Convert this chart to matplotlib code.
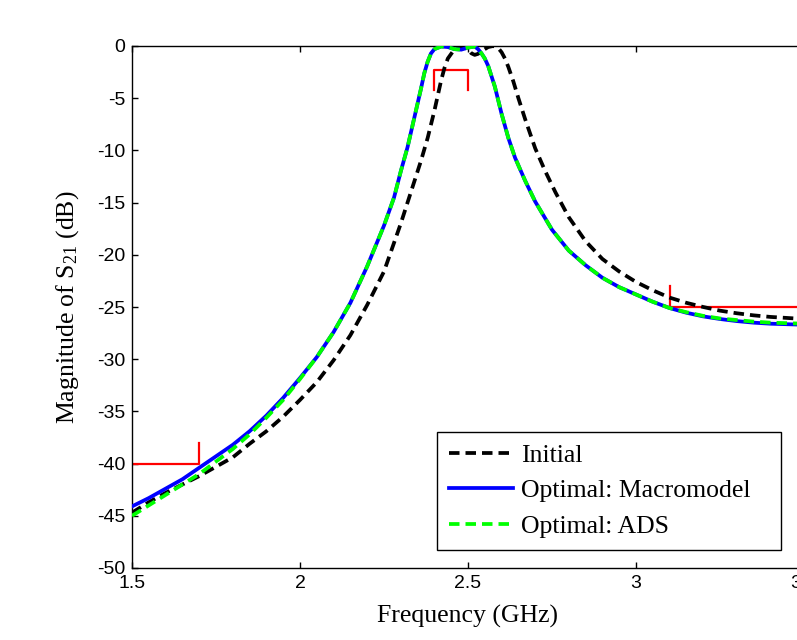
import matplotlib
matplotlib.use("Agg")
import matplotlib.pyplot as plt

# ---------------- data ----------------
freq_opt = [1.50, 1.55, 1.60, 1.65, 1.70, 1.75, 1.80, 1.85, 1.90, 1.95, 2.00, 2.05,
            2.10, 2.15, 2.20, 2.25, 2.28, 2.30, 2.32, 2.34, 2.36, 2.37, 2.38, 2.39,
            2.40, 2.42, 2.44, 2.46, 2.48, 2.50, 2.52, 2.53, 2.54, 2.55, 2.56, 2.58,
            2.60, 2.62, 2.64, 2.67, 2.70, 2.75, 2.80, 2.85, 2.90, 2.95, 3.00, 3.05,
            3.10, 3.15, 3.20, 3.25, 3.30, 3.35, 3.40, 3.45, 3.50]
s21_ads = [-45.0, -44.0, -43.0, -42.0, -41.0, -39.8, -38.6, -37.2, -35.6, -33.9, -31.9, -29.8,
           -27.4, -24.6, -21.1, -17.2, -14.5, -12.0, -9.7, -6.9, -4.1, -2.6, -1.5, -0.7,
           -0.3, -0.05, -0.1, -0.3, -0.35, -0.15, -0.05, -0.3, -0.7, -1.2, -1.9, -3.9,
           -6.5, -8.8, -10.7, -12.9, -14.9, -17.6, -19.6, -21.0, -22.2, -23.1, -23.8, -24.5,
           -25.1, -25.5, -25.85, -26.1, -26.25, -26.4, -26.5, -26.55, -26.6]
s21_macro = [-44.1, -43.3, -42.4, -41.5, -40.4, -39.3, -38.2, -36.9, -35.4, -33.7, -31.8, -29.8,
             -27.4, -24.6, -21.1, -17.2, -14.5, -12.0, -9.7, -6.9, -4.1, -2.6, -1.5, -0.7,
             -0.3, -0.05, -0.1, -0.3, -0.35, -0.15, -0.05, -0.3, -0.7, -1.2, -1.9, -3.9,
             -6.5, -8.8, -10.7, -12.9, -14.9, -17.6, -19.6, -21.0, -22.2, -23.1, -23.8, -24.5,
             -25.1, -25.55, -25.9, -26.15, -26.35, -26.5, -26.6, -26.65, -26.7]

freq_init = [1.50, 1.55, 1.60, 1.65, 1.70, 1.75, 1.80, 1.85, 1.90, 1.95, 2.00, 2.05,
             2.10, 2.15, 2.20, 2.25, 2.30, 2.32, 2.34, 2.36, 2.38, 2.40, 2.42, 2.43,
             2.44, 2.46, 2.48, 2.50, 2.51, 2.52, 2.53, 2.54, 2.56, 2.575, 2.59, 2.60,
             2.61, 2.62, 2.635, 2.65, 2.67, 2.70, 2.73, 2.76, 2.80, 2.85, 2.90, 2.95,
             3.00, 3.05, 3.10, 3.15, 3.20, 3.25, 3.30, 3.35, 3.40, 3.45, 3.50]
s21_init = [-44.7, -43.7, -42.8, -42.0, -41.2, -40.3, -39.4, -38.1, -36.9, -35.5, -33.9, -32.2,
            -30.1, -27.7, -24.8, -21.6, -17.0, -15.0, -13.0, -11.0, -8.8, -6.2, -3.3, -2.1,
            -1.2, -0.3, -0.05, -0.3, -0.7, -0.85, -0.75, -0.5, -0.1, 0.0, -0.2, -0.6,
            -1.2, -2.0, -3.4, -5.0, -7.0, -9.8, -12.0, -14.0, -16.4, -18.7, -20.4, -21.6,
            -22.6, -23.4, -24.1, -24.6, -25.0, -25.35, -25.6, -25.8, -25.95, -26.05, -26.15]

# specification masks (frequency, dB)
spec_low_f = [1.5, 1.7, 1.7]
spec_low_db = [-40, -40, -38]
spec_pass_f = [2.4, 2.4, 2.5, 2.5]
spec_pass_db = [-4.2, -2.3, -2.3, -4.2]
spec_high_f = [3.1, 3.1, 3.5]
spec_high_db = [-23, -25, -25]

labels = ["Initial", "Optimal: Macromodel", "Optimal: ADS"]
xticks = [1.5, 2, 2.5, 3, 3.5]
xticklabels = ['1.5', '2', '2.5', '3', '3.5']
yticks = [0, -5, -10, -15, -20, -25, -30, -35, -40, -45, -50]

# ---------------- plot ----------------
plt.rcParams['mathtext.fontset'] = 'custom'
plt.rcParams['mathtext.rm'] = 'Liberation Serif'
plt.rcParams['mathtext.it'] = 'Liberation Serif:italic'

W, H = 797, 640
fig = plt.figure(figsize=(W / 100, H / 100), dpi=100)
ax = fig.add_axes([132 / W, (H - 568) / H, 672 / W, 522 / H])

red = '#ff0000'
ax.plot(spec_low_f, spec_low_db, color=red, lw=1.6, zorder=2)
ax.plot(spec_pass_f, spec_pass_db, color=red, lw=1.6, zorder=2)
ax.plot(spec_high_f, spec_high_db, color=red, lw=1.6, zorder=2)

l1, = ax.plot(freq_init, s21_init, color='black', lw=2.7, dashes=(2.8, 1.6), label=labels[0], zorder=3)
l2, = ax.plot(freq_opt, s21_macro, color='#0000ff', lw=2.7, label=labels[1], zorder=4)
l3, = ax.plot(freq_opt, s21_ads, color='#00ff00', lw=2.7, dashes=(2.8, 1.6), label=labels[2], zorder=5)

ax.set_xlim(1.5, 3.5)
ax.set_ylim(-50, 0)
ax.set_xticks(xticks)
ax.set_xticklabels(xticklabels)
ax.set_yticks(yticks)
ax.set_yticklabels([str(v) for v in yticks])

ax.tick_params(direction='in', length=4, width=1, top=True, right=True,
               labelsize=14, pad=5)
for lab in ax.get_xticklabels() + ax.get_yticklabels():
    lab.set_fontfamily('Liberation Sans')
for sp in ax.spines.values():
    sp.set_linewidth(1.0)

ax.set_xlabel('Frequency (GHz)', fontfamily='Liberation Serif', fontsize=18.5, labelpad=9)
ax.set_ylabel('Magnitude of S$_{21}$ (dB)', fontfamily='Liberation Serif', fontsize=18.5, labelpad=11)

lx0 = (437 - 132) / 672
lx1 = (781 - 132) / 672
ly1 = (568 - 432) / 522
leg = ax.legend(handles=[l1, l2, l3], loc='upper left',
                bbox_to_anchor=(lx0, ly1 - 0.3, lx1 - lx0, 0.3), mode='expand',
                borderaxespad=0, fancybox=False, framealpha=1, edgecolor='black',
                prop={'family': 'Liberation Serif', 'size': 18.5},
                handlelength=2.5, handletextpad=0.32, labelspacing=0.5,
                borderpad=0.45)
leg.get_frame().set_linewidth(1.0)

fig.savefig('out.png', dpi=100)
